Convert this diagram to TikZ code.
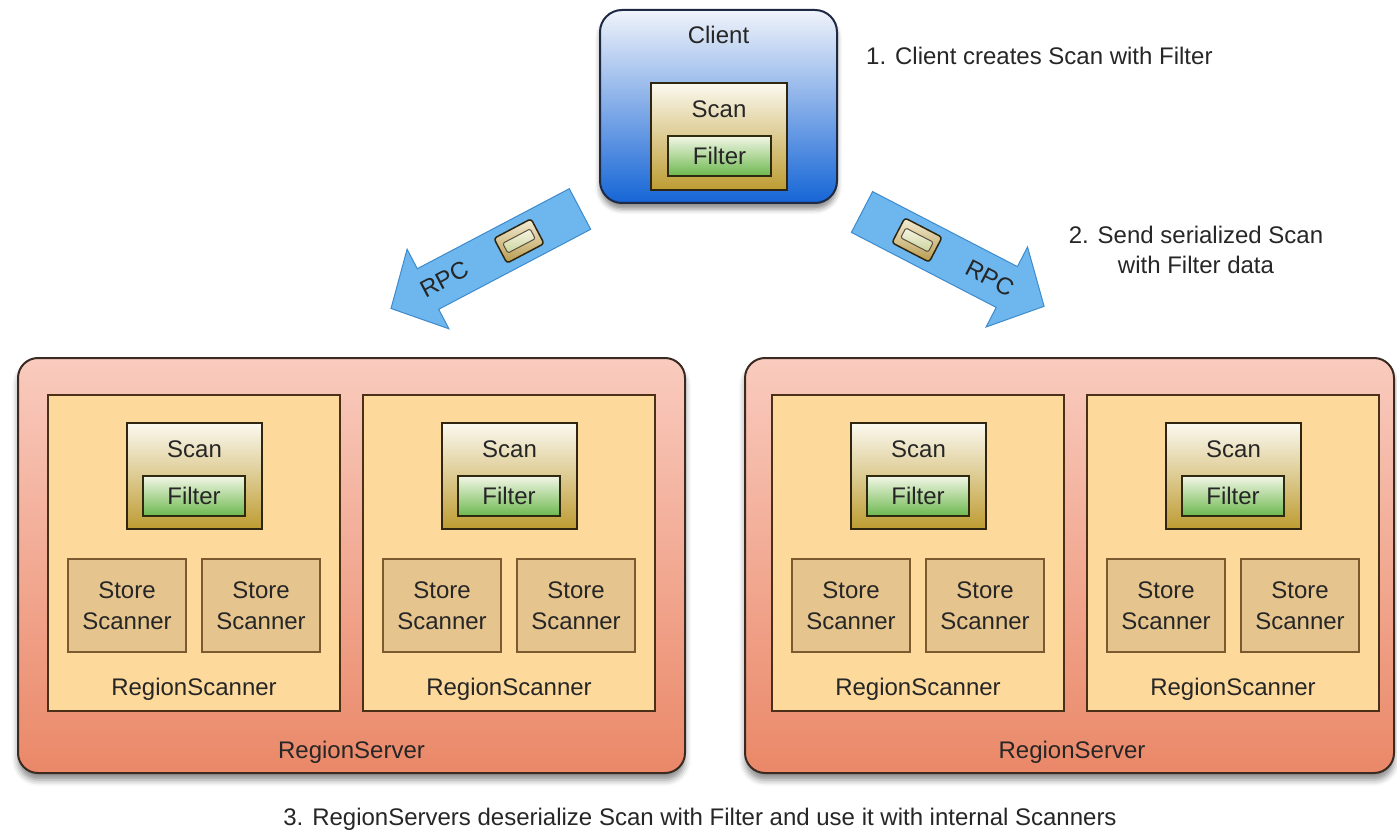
\documentclass[tikz,border=0pt]{standalone}
\usepackage{fontspec}
\setmainfont{Liberation Sans}
\usetikzlibrary{shadows.blur}

\definecolor{txt}{HTML}{262626}
\definecolor{clientTop}{HTML}{F0F3FA}
\definecolor{clientMid}{HTML}{A9C3E6}
\definecolor{clientBot}{HTML}{1565D6}
\definecolor{clientLine}{HTML}{1E2A44}
\definecolor{scanTop}{HTML}{FBF9F0}
\definecolor{scanMid}{HTML}{EFE4C4}
\definecolor{scanBot}{HTML}{BE9C32}
\definecolor{scanLine}{HTML}{2E2610}
\definecolor{filterTop}{HTML}{F2F6E6}
\definecolor{filterBot}{HTML}{6DB84E}
\definecolor{filterLine}{HTML}{2E2A10}
\definecolor{serverTop}{HTML}{F9CBBE}
\definecolor{serverBot}{HTML}{EA8868}
\definecolor{serverLine}{HTML}{3A2A22}
\definecolor{rsFill}{HTML}{FDD99C}
\definecolor{rsLine}{HTML}{4A3018}
\definecolor{storeFill}{HTML}{E6C48E}
\definecolor{storeLine}{HTML}{7A5A2E}
\definecolor{arrowFill}{HTML}{6DB7EE}
\definecolor{arrowLine}{HTML}{3E8ACB}
\definecolor{pkgTop}{HTML}{F4EDD6}
\definecolor{pkgBot}{HTML}{B89A4C}
\definecolor{pkgInTop}{HTML}{F8F4E2}
\definecolor{pkgInBot}{HTML}{C9D49C}

% one RegionScanner: #1 = name prefix, #2 = left edge
\newcommand\rscanner[2]{%
  \node[rsbox, minimum width=292, minimum height=316] (#1) at (#2,395) {};
  \node[scanbox, minimum width=135, minimum height=106] (#1scan) at ({#2+79},423) {};
  \node[lbl] (#1scanlbl) at ({#2+146.5},449) {Scan};
  \node[filterbox, minimum width=102, minimum height=40] (#1filter) at ({#2+95},476) {};
  \node[lbl] (#1filterlbl) at ({#2+146},496) {Filter};
  \node[storebox, minimum width=118, minimum height=93] (#1storeA) at ({#2+20},559) {};
  \node[storebox, minimum width=118, minimum height=93] (#1storeB) at ({#2+154},559) {};
  \node[lbl] (#1storeAa) at ({#2+79},590) {Store};
  \node[lbl] (#1storeAb) at ({#2+79},621) {Scanner};
  \node[lbl] (#1storeBa) at ({#2+213},590) {Store};
  \node[lbl] (#1storeBb) at ({#2+213},621) {Scanner};
  \node[lbl] (#1lbl) at ({#2+146},687) {RegionScanner};
}

\begin{document}
\begin{tikzpicture}[x=1pt,y=-1pt,
  lbl/.style={font=\fontsize{24}{30}\selectfont, text=txt, inner sep=0pt,
    text height=17pt, text depth=0pt},
  box/.style={anchor=north west, inner sep=0pt, outer sep=0pt},
  server/.style={box, rounded corners=20pt, draw=serverLine, line width=2pt,
    top color=serverTop, bottom color=serverBot,
    blur shadow={shadow xshift=0pt, shadow yshift=-7pt, shadow blur radius=6pt, shadow opacity=45}},
  client/.style={box, rounded corners=22pt, draw=clientLine, line width=2pt,
    top color=clientTop, middle color=clientMid, bottom color=clientBot,
    blur shadow={shadow xshift=0pt, shadow yshift=-6pt, shadow blur radius=5pt, shadow opacity=45}},
  rsbox/.style={box, draw=rsLine, line width=2pt, fill=rsFill},
  scanbox/.style={box, draw=scanLine, line width=2pt,
    top color=scanTop, middle color=scanMid, bottom color=scanBot},
  filterbox/.style={box, draw=filterLine, line width=1.6pt,
    top color=filterTop, bottom color=filterBot},
  storebox/.style={box, draw=storeLine, line width=1.6pt, fill=storeFill},
  rpcarrow/.style={fill=arrowFill, draw=arrowLine, line width=1pt, line join=miter},
  pkg/.style={inner sep=0pt, minimum width=42, minimum height=28, rounded corners=3pt,
    draw=scanLine, line width=1.5pt, top color=pkgTop, bottom color=pkgBot},
  pkgin/.style={inner sep=0pt, minimum width=31, minimum height=11, rounded corners=1.5pt,
    draw=scanLine!80, line width=1pt, top color=pkgInTop, bottom color=pkgInBot},
]
\useasboundingbox (0,0) rectangle (1397,834);

% ---- client ----
\node[client, minimum width=237, minimum height=193] (client) at (600,10) {};
\node[lbl] (clientlbl) at (718.5,35) {Client};
\node[scanbox, minimum width=136, minimum height=107] (cscan) at (651,83) {};
\node[lbl] (cscanlbl) at (719,109) {Scan};
\node[filterbox, minimum width=103, minimum height=40] (cfilter) at (668,136) {};
\node[lbl] (cfilterlbl) at (719.5,156) {Filter};

% ---- step notes ----
\node[lbl, anchor=west] (note1) at (866,56) {1. Client creates Scan with Filter};
\node[lbl, align=center, text height=, text depth=] (note2) at (1196,250)
  {2. Send serialized Scan\\with Filter data};
\node[lbl] (note3) at (700,817)
  {3. RegionServers deserialize Scan with Filter and use it with internal Scanners};

% ---- RPC arrows ----
\coordinate (la1) at (569.3,188.7);
\coordinate (la2) at (417.3,268.7);
\coordinate (la3) at (407.1,249.2);
\coordinate (la4) at (391.0,308.5);
\coordinate (la5) at (448.9,328.8);
\coordinate (la6) at (438.7,309.3);
\coordinate (la7) at (590.7,229.3);
\draw[rpcarrow] (la1) -- (la2) -- (la3) -- (la4) -- (la5) -- (la6) -- (la7) -- cycle;
\node[pkg, rotate=27.75] (lpkg) at (519,241) {};
\node[pkgin, rotate=27.75] (lpkgin) at (lpkg.center) {};
\node[lbl, rotate=27.75] (lrpc) at (444,279) {RPC};

\coordinate (ra1) at (872.6,191.6);
\coordinate (ra2) at (1017.4,266.6);
\coordinate (ra3) at (1027.5,247.0);
\coordinate (ra4) at (1044.1,306.3);
\coordinate (ra5) at (986.1,327.0);
\coordinate (ra6) at (996.2,307.4);
\coordinate (ra7) at (851.4,232.4);
\draw[rpcarrow] (ra1) -- (ra2) -- (ra3) -- (ra4) -- (ra5) -- (ra6) -- (ra7) -- cycle;
\node[pkg, rotate=-27.4] (rpkg) at (917,240) {};
\node[pkgin, rotate=-27.4] (rpkgin) at (rpkg.center) {};
\node[lbl, rotate=-27.4] (rrpc) at (990,278) {RPC};

% ---- region servers ----
\node[server, minimum width=667, minimum height=415] (srvL) at (18,358) {};
\node[server, minimum width=649, minimum height=415] (srvR) at (745,358) {};
\node[lbl] (srvLlbl) at (351.5,750) {RegionServer};
\node[lbl] (srvRlbl) at (1072,750) {RegionServer};

\rscanner{rsA}{48}
\rscanner{rsB}{363}
\rscanner{rsC}{772}
\rscanner{rsD}{1087}

\end{tikzpicture}
\end{document}
